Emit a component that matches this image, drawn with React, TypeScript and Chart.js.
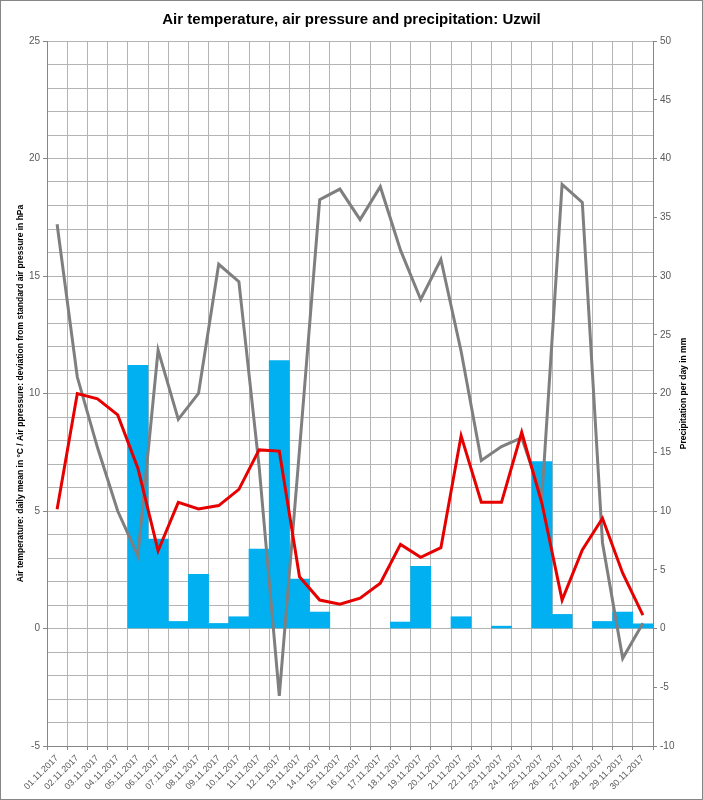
import React, { useEffect, useRef } from "react";
import { Chart, registerables } from "chart.js";

Chart.register(...registerables);

// dates of November 2017
const days: string[] = [
  "01.11.2017", "02.11.2017", "03.11.2017", "04.11.2017", "05.11.2017", "06.11.2017",
  "07.11.2017", "08.11.2017", "09.11.2017", "10.11.2017", "11.11.2017", "12.11.2017",
  "13.11.2017", "14.11.2017", "15.11.2017", "16.11.2017", "17.11.2017", "18.11.2017",
  "19.11.2017", "20.11.2017", "21.11.2017", "22.11.2017", "23.11.2017", "24.11.2017",
  "25.11.2017", "26.11.2017", "27.11.2017", "28.11.2017", "29.11.2017", "30.11.2017",
];

// daily mean air temperature in °C (left axis)
const temperature: number[] = [
  5.07, 10.0, 9.77, 9.09, 6.82, 3.31, 5.37, 5.09, 5.23, 5.92,
  7.6, 7.55, 2.2, 1.21, 1.03, 1.29, 1.93, 3.58, 3.03, 3.44,
  8.2, 5.37, 5.37, 8.35, 5.33, 1.21, 3.34, 4.69, 2.35, 0.57,
];

// deviation from standard air pressure in hPa (left axis)
const pressure: number[] = [
  17.2, 10.7, 7.7, 5.0, 3.1, 11.85, 8.9, 10.0, 15.5, 14.76,
  6.9, -2.87, 7.6, 18.25, 18.7, 17.4, 18.8, 16.1, 14.0, 15.7,
  11.8, 7.15, 7.74, 8.12, 5.6, 18.9, 18.13, 3.64, -1.27, 0.22,
];

// precipitation per day in mm (right axis)
const precipitation: number[] = [
  0, 0, 0, 0, 22.4, 7.6, 0.6, 4.6, 0.43, 1.0,
  6.75, 22.8, 4.2, 1.4, 0, 0, 0, 0.55, 5.3, 0,
  1.0, 0, 0.2, 0, 14.2, 1.2, 0, 0.6, 1.4, 0.4,
];

const leftTitle =
  "Air temperature: daily mean in °C / Air ppressure: deviation from standard air pressure in hPa";
const rightTitle = "Precipitation per day in mm";

const FONT = "'Liberation Sans', Arial, sans-serif";
const GRID = "#b4b4b4";
const AXIS = "#868686";
const TICK_TEXT = "#595959";

// axis titles read bottom-to-top on both sides, plus the outer frame
const decorations = {
  id: "decorations",
  afterDraw(chart: any) {
    const { ctx, chartArea } = chart;
    const midY = (chartArea.top + chartArea.bottom) / 2;
    ctx.save();
    ctx.fillStyle = "#000";
    ctx.font = `bold 8.5px ${FONT}`;
    ctx.textAlign = "center";
    ctx.textBaseline = "middle";
    ctx.translate(21, midY);
    ctx.rotate(-Math.PI / 2);
    ctx.fillText(leftTitle, 0, 0);
    ctx.restore();

    ctx.save();
    ctx.fillStyle = "#000";
    ctx.font = `bold 8.5px ${FONT}`;
    ctx.textAlign = "center";
    ctx.textBaseline = "middle";
    ctx.translate(684, midY);
    ctx.rotate(-Math.PI / 2);
    ctx.fillText(rightTitle, 0, 0);
    ctx.restore();

    ctx.save();
    ctx.strokeStyle = AXIS;
    ctx.lineWidth = 1;
    ctx.strokeRect(0.5, 0.5, chart.width - 1, chart.height - 1);
    ctx.restore();
  },
};

const App = () => {
  const chartRef = useRef<HTMLCanvasElement | null>(null);

  useEffect(() => {
    if (!chartRef.current) return;

    const myChart = new Chart(chartRef.current, {
      type: "bar",
      data: {
        labels: days,
        datasets: [
          {
            type: "line",
            label: "Air temperature",
            data: temperature,
            yAxisID: "y",
            borderColor: "#e60000",
            borderWidth: 3,
            pointRadius: 0,
            tension: 0,
            order: 1,
          },
          {
            type: "line",
            label: "Air pressure",
            data: pressure,
            yAxisID: "y",
            borderColor: "#7f7f7f",
            borderWidth: 3,
            pointRadius: 0,
            tension: 0,
            order: 2,
          },
          {
            type: "bar",
            label: "Precipitation",
            // dry days get no bar at all
            data: precipitation.map((v) => (v === 0 ? null : v)),
            yAxisID: "y1",
            backgroundColor: "#00b0f0",
            borderWidth: 0,
            barPercentage: 1,
            categoryPercentage: 1,
            order: 3,
          },
        ],
      },
      options: {
        responsive: false,
        animation: false,
        devicePixelRatio: 1,
        layout: { padding: 0 },
        plugins: {
          legend: { display: false },
          tooltip: { enabled: false },
          title: {
            display: true,
            text: "Air temperature, air pressure and precipitation: Uzwil",
            color: "#000",
            font: { family: FONT, size: 15, weight: "bold", lineHeight: 1.2 },
            padding: { top: 11, bottom: 12 },
          },
        },
        scales: {
          x: {
            offset: true,
            grid: { color: GRID, offset: true, tickLength: 4, tickColor: AXIS },
            border: { color: AXIS },
            ticks: {
              autoSkip: false,
              maxRotation: 45,
              minRotation: 45,
              color: TICK_TEXT,
              font: { family: FONT, size: 9 },
            },
            afterFit: (scale: any) => {
              scale.height = 54;
            },
          },
          y: {
            position: "left",
            min: -5,
            max: 25,
            grid: {
              color: GRID,
              tickLength: 4,
              tickColor: (c: any) => (c.tick && c.tick.value % 5 === 0 ? AXIS : "rgba(0,0,0,0)"),
            },
            border: { color: AXIS },
            ticks: {
              stepSize: 1,
              autoSkip: false,
              color: TICK_TEXT,
              font: { family: FONT, size: 10 },
              callback: (v: any) => (Number(v) % 5 === 0 ? String(v) : ""),
            },
            afterFit: (scale: any) => {
              scale.width = 47;
            },
          },
          y1: {
            position: "right",
            min: -10,
            max: 50,
            grid: { drawOnChartArea: false, tickLength: 4, tickColor: AXIS },
            border: { color: AXIS },
            ticks: {
              stepSize: 5,
              color: TICK_TEXT,
              font: { family: FONT, size: 10 },
            },
            afterFit: (scale: any) => {
              scale.width = 50;
            },
          },
        },
      },
      plugins: [decorations],
    });

    return () => {
      myChart.destroy();
    };
  }, []);

  return (
    <div style={{ position: "absolute", left: 0, top: 0, width: 703, height: 800, background: "#fff" }}>
      <canvas ref={chartRef} width={703} height={800} style={{ width: 703, height: 800 }}></canvas>
    </div>
  );
};

export default App;
